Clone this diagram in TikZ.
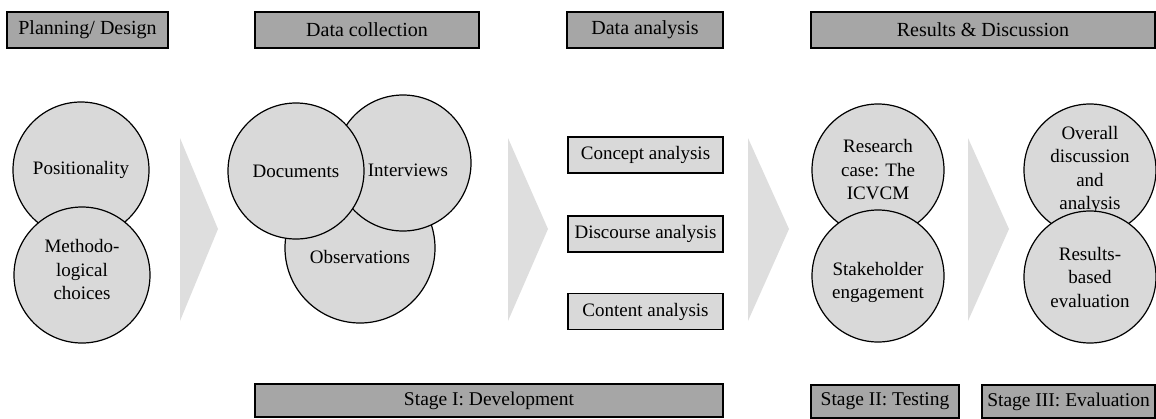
\documentclass[tikz,border=0pt]{standalone}
\usepackage{fontspec}
\setmainfont{Liberation Serif}
\usepackage{tikz}
\usetikzlibrary{positioning}
\definecolor{phasegray}{HTML}{A6A6A6}
\definecolor{itemgray}{HTML}{D9D9D9}
\definecolor{flowgray}{HTML}{DEDEDE}
\tikzset{
  phasebox/.style={draw=black, fill=phasegray, line width=1.3pt, minimum height=36pt, inner sep=0pt, font=\fontsize{20}{24}\selectfont},
  stagebox/.style={phasebox, minimum height=33pt, font=\fontsize{19.5}{24}\selectfont},
  methodcircle/.style={circle, draw=black, fill=itemgray, line width=1.2pt, minimum size=136pt, inner sep=0pt, align=center, font=\fontsize{19}{23.5}\selectfont},
  analysisbox/.style={draw=black, fill=itemgray, line width=1.3pt, minimum width=155pt, minimum height=36pt, inner sep=0pt, font=\fontsize{19}{23}\selectfont},
  flowchevron/.style={fill=flowgray, draw=none}
}

\begin{document}
\begin{tikzpicture}[x=1pt, y=-1pt]
  \useasboundingbox (0,0) rectangle (1156,418);

  % phase headers
  \node[phasebox, minimum width=161pt] (plan) at (87.5,30) {Planning/ Design};
  \node[phasebox, minimum width=224pt] (collect) at (367,30) {Data collection};
  \node[phasebox, minimum width=156pt] (analyse) at (645,30) {Data analysis};
  \node[phasebox, minimum width=344pt] (results) at (983,30) {Results \& Discussion};

  % flow chevrons
  \fill[flowchevron] (180,138) -- (218,229) -- (180,321) -- cycle;
  \fill[flowchevron] (508,138) -- (548,229) -- (508,321) -- cycle;
  \fill[flowchevron] (748,138) -- (789,229) -- (748,321) -- cycle;
  \fill[flowchevron] (968,138) -- (1009,229) -- (968,321) -- cycle;

  % planning
  \node[methodcircle] (position) at (81,170) {Positionality};
  \node[methodcircle] (methods) at (82,275) {\raisebox{1pt}[0pt][0pt]{\parbox{120pt}{\centering Methodo-\\logical\\choices}}};

  % data collection
  \node[methodcircle, minimum size=150pt] (observe) at (360,248) {\raisebox{-15pt}[0pt][0pt]{Observations}};
  \node[methodcircle] (interview) at (403,163) {\raisebox{-13pt}[0pt][0pt]{\hspace{10pt}Interviews}};
  \node[methodcircle] (docs) at (296,171) {Documents};

  % data analysis
  \node[analysisbox] (concept) at (645.5,155) {Concept analysis};
  \node[analysisbox] (discourse) at (645.5,234) {Discourse analysis};
  \node[analysisbox] (content) at (645.5,311.5) {Content analysis};

  % testing
  \node[methodcircle, minimum size=132pt] (case) at (878,170) {Research\\case: The\\ICVCM};
  \node[methodcircle, minimum size=132pt] (stake) at (878,276) {\raisebox{-11pt}[0pt][0pt]{\parbox{120pt}{\centering Stakeholder\\engagement}}};

  % evaluation
  \node[methodcircle, minimum size=132pt] (overall) at (1090,170) {Overall\\discussion\\and\\analysis};
  \node[methodcircle, minimum size=132pt] (resbased) at (1090,277) {Results-\\based\\evaluation};

  % stages
  \node[stagebox, minimum width=468pt] (stage1) at (489,400.5) {Stage I: Development};
  \node[stagebox, minimum width=148pt] (stage2) at (885,401.5) {Stage II: Testing};
  \node[stagebox, minimum width=173pt] (stage3) at (1068.5,401.5) {Stage III: Evaluation};
\end{tikzpicture}
\end{document}
